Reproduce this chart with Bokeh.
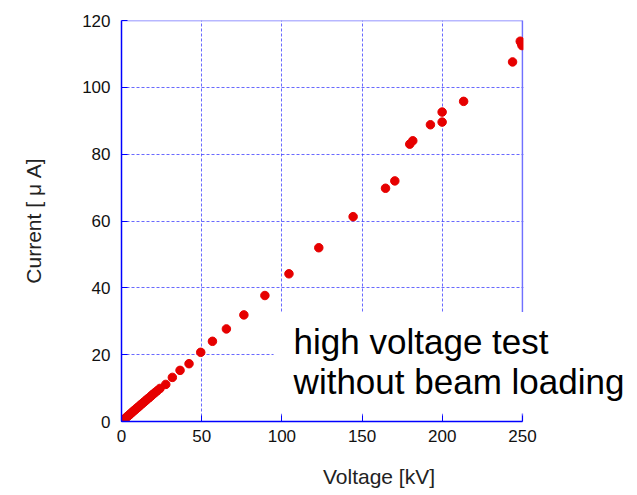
from bokeh.plotting import figure
from bokeh.models import Range1d, Label, BoxAnnotation, FixedTicker, ColumnDataSource
from bokeh.embed import file_html
from bokeh.resources import INLINE

voltage_kv = [0, 0.5, 1.2, 2.0, 2.8, 3.6, 4.4, 5.2, 6.0, 6.8,
              7.6, 8.5, 9.3, 10.2, 11.1, 12.0, 13.0, 14.0, 15.0, 16.1,
              17.2, 18.4, 19.5, 20.8, 22.3, 24.0, 27.6, 31.7, 36.5, 42.1,
              49.4, 56.7, 65.4, 76.3, 89.4, 104.4, 123.0, 144.4, 164.6, 170.4,
              179.7, 181.6, 192.6, 199.9, 199.9, 213.3, 243.8, 248.6, 249.7, 249.3]
current_ua = [0, 0.2, 0.5, 0.8, 1.1, 1.5, 1.8, 2.1, 2.5, 2.8,
              3.2, 3.5, 3.9, 4.2, 4.6, 5.0, 5.4, 5.8, 6.2, 6.7,
              7.1, 7.6, 8.1, 8.6, 9.2, 9.9, 11.1, 13.2, 15.3, 17.3,
              20.7, 24.0, 27.7, 31.9, 37.7, 44.2, 52.0, 61.3, 69.8, 72.0,
              83.0, 84.0, 88.8, 89.6, 92.6, 95.8, 107.6, 113.8, 112.5, 113.2]

x_ticks = [0, 50, 100, 150, 200, 250]
y_ticks = [0, 20, 40, 60, 80, 100, 120]
note_lines = ["high voltage test", "without beam loading"]

FONT = "Liberation Sans"
BLUE = "#0000ff"

# axes box spans 0..250 over 401 px; the frame is widened to the right so the
# note text can run past the right border as in the reference
FRAME_W, FRAME_H, AX_W = 515, 401, 401
x_end = x_ticks[-1] * FRAME_W / AX_W

p = figure(frame_width=FRAME_W, frame_height=FRAME_H,
           x_range=Range1d(0, x_end), y_range=Range1d(0, y_ticks[-1]),
           output_backend="svg", toolbar_location=None,
           min_border_left=121, min_border_right=0, min_border_top=20, min_border_bottom=73,
           background_fill_color="white", border_fill_color="white")

p.xaxis.ticker = FixedTicker(ticks=x_ticks)
p.yaxis.ticker = FixedTicker(ticks=y_ticks)
p.xaxis.bounds = (x_ticks[0], x_ticks[-1])
p.xaxis.axis_label = "Voltage [kV]"
p.yaxis.axis_label = "Current [ \u03bc A]"

for ax in (p.xaxis, p.yaxis):
    ax.axis_line_color = BLUE
    ax.axis_line_width = 1.5
    ax.major_tick_line_color = BLUE
    ax.major_tick_in = 6
    ax.major_tick_out = 0
    ax.minor_tick_line_color = None
    ax.major_label_text_font = FONT
    ax.major_label_text_font_size = "17px"
    ax.major_label_text_color = "#111111"
    ax.axis_label_text_font = FONT
    ax.axis_label_text_font_size = "21px"
    ax.axis_label_text_font_style = "normal"
    ax.axis_label_text_color = "#222222"

p.xaxis.major_label_standoff = 8
p.yaxis.major_label_standoff = 11
p.xaxis.axis_label_standoff = 20
p.yaxis.axis_label_standoff = 34

p.grid.grid_line_color = "#2a2aff"
p.grid.grid_line_alpha = 0.7
p.grid.grid_line_dash = "3 2"
p.grid.grid_line_width = 1

p.outline_line_color = None

# top and right borders of the axes box (lighter blue)
p.segment(x0=[x_ticks[0], x_ticks[-1]], y0=[y_ticks[-1], y_ticks[0]],
          x1=[x_ticks[-1], x_ticks[-1]], y1=[y_ticks[-1], y_ticks[-1]],
          line_color="#7070ff", line_width=1.6)

src = ColumnDataSource(dict(x=voltage_kv, y=current_ua))
p.scatter("x", "y", source=src, size=8.5, fill_color="#e60000", line_color="#e60000")

# blank area right of the axes box
p.add_layout(BoxAnnotation(left=x_ticks[-1] + 0.6, fill_color="white", fill_alpha=1.0,
                           line_color=None))
# white panel behind the note
p.add_layout(BoxAnnotation(left=94.8, bottom=2.4, top=32.8,
                           fill_color="white", fill_alpha=1.0, line_color=None))

p.add_layout(Label(x=107.3, y=24.0, text=note_lines[0], text_font=FONT,
                   text_font_size="35px", text_color="black", text_baseline="alphabetic"))
p.add_layout(Label(x=107.3, y=12.1, text=note_lines[1], text_font=FONT,
                   text_font_size="35px", text_color="black", text_baseline="alphabetic"))

open("out.html", "w").write(file_html(p, INLINE))
